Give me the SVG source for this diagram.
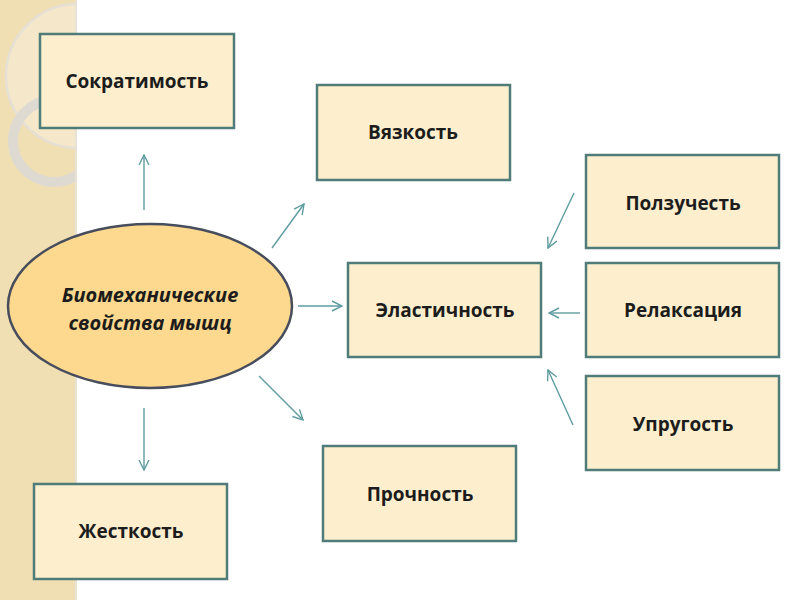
<svg xmlns="http://www.w3.org/2000/svg" width="800" height="600" viewBox="0 0 800 600">
<defs>
<style>
.box{fill:#fdefcd;stroke:#4f7c78;stroke-width:2.5}
.lbl{font-family:"Open Sans","Liberation Sans",sans-serif;font-weight:bold;font-size:19px;fill:#1c1c1c;text-anchor:middle;dominant-baseline:central}
.ell{font-family:"Open Sans","Liberation Sans",sans-serif;font-weight:bold;font-style:italic;font-size:20px;fill:#1c1c1c;text-anchor:middle}
.conn line{stroke:#5e9ca0;stroke-width:1.4;fill:none}
</style>
<marker id="ah" viewBox="0 0 12 12" refX="11" refY="6" markerWidth="12" markerHeight="12" markerUnits="userSpaceOnUse" orient="auto">
<path d="M1,1 L11,6 L1,11" fill="none" stroke="#5e9ca0" stroke-width="1.4"/>
</marker>
<clipPath id="strip"><rect x="0" y="0" width="76" height="600"/></clipPath>
</defs>
<rect x="0" y="0" width="800" height="600" fill="#ffffff"/>
<g id="background">
<rect x="0" y="0" width="76" height="600" fill="#f1dfb4"/>
<g clip-path="url(#strip)">
<circle cx="78" cy="76" r="72" fill="#f5e7c9" stroke="#e6e0d4" stroke-width="2.5"/>
<circle cx="54" cy="141" r="41" fill="none" stroke="#dedad1" stroke-width="10"/>
</g>
<rect x="75" y="0" width="2" height="600" fill="#e8e2d6"/>
</g>
<g class="conn" id="connectors">
<line x1="144" y1="210" x2="144" y2="155" marker-end="url(#ah)"/>
<line x1="144" y1="408" x2="144" y2="470" marker-end="url(#ah)"/>
<line x1="272" y1="248" x2="304" y2="204" marker-end="url(#ah)"/>
<line x1="298" y1="306" x2="342" y2="306" marker-end="url(#ah)"/>
<line x1="259" y1="376" x2="303" y2="420" marker-end="url(#ah)"/>
<line x1="574" y1="193" x2="548" y2="248" marker-end="url(#ah)"/>
<line x1="580" y1="313" x2="549" y2="313" marker-end="url(#ah)"/>
<line x1="573" y1="425" x2="548" y2="370" marker-end="url(#ah)"/>
</g>
<g id="center">
<ellipse cx="150" cy="306" rx="142" ry="82" fill="#fcd98e" stroke="#474d5c" stroke-width="2.5"/>
<text class="ell" x="150" y="302">Биомеханические</text>
<text class="ell" x="150" y="330">свойства мышц</text>
</g>
<g id="n-sokr"><rect class="box" x="40" y="34" width="194" height="94"/><text class="lbl" x="137" y="81">Сократимость</text></g>
<g id="n-vyaz"><rect class="box" x="317" y="85" width="193" height="95"/><text class="lbl" x="413" y="132">Вязкость</text></g>
<g id="n-polz"><rect class="box" x="586" y="155" width="193" height="93"/><text class="lbl" x="683" y="203">Ползучесть</text></g>
<g id="n-rel"><rect class="box" x="586" y="263" width="193" height="94"/><text class="lbl" x="683" y="310">Релаксация</text></g>
<g id="n-upr"><rect class="box" x="586" y="376" width="193" height="94"/><text class="lbl" x="683" y="424">Упругость</text></g>
<g id="n-elast"><rect class="box" x="348" y="263" width="193" height="94"/><text class="lbl" x="445" y="310">Эластичность</text></g>
<g id="n-proch"><rect class="box" x="323" y="446" width="193" height="95"/><text class="lbl" x="420" y="494">Прочность</text></g>
<g id="n-zhest"><rect class="box" x="34" y="484" width="193" height="95"/><text class="lbl" x="131" y="531">Жесткость</text></g>
</svg>
